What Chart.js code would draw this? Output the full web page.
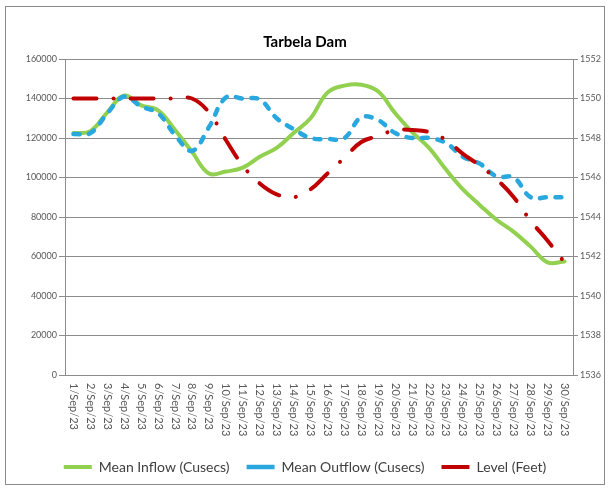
<!DOCTYPE html>
<html>
<head>
<meta charset="utf-8">
<title>Tarbela Dam</title>
<script src="https://cdn.jsdelivr.net/npm/chart.js@4.4.0/dist/chart.umd.min.js"></script>
<style>
  html, body { margin: 0; padding: 0; background: #fff; }
  canvas { display: block; }
</style>
</head>
<body>
<canvas id="chart" width="610" height="489"></canvas>
<script>
// Daily readings, September 2023
const days = [
  '1/Sep/23', '2/Sep/23', '3/Sep/23', '4/Sep/23', '5/Sep/23', '6/Sep/23',
  '7/Sep/23', '8/Sep/23', '9/Sep/23', '10/Sep/23', '11/Sep/23', '12/Sep/23',
  '13/Sep/23', '14/Sep/23', '15/Sep/23', '16/Sep/23', '17/Sep/23', '18/Sep/23',
  '19/Sep/23', '20/Sep/23', '21/Sep/23', '22/Sep/23', '23/Sep/23', '24/Sep/23',
  '25/Sep/23', '26/Sep/23', '27/Sep/23', '28/Sep/23', '29/Sep/23', '30/Sep/23'
];

const meanInflow = [
  122500, 123500, 133000, 141500, 136500, 134000, 124000, 113000, 102000, 103000,
  105000, 110500, 115000, 122500, 130000, 143000, 146500, 147000, 143500, 132500,
  123000, 115000, 104000, 94000, 86000, 78500, 72500, 65000, 57000, 57500
];

const meanOutflow = [
  122000, 122500, 132500, 141000, 136000, 132500, 121500, 113500, 125500, 140500,
  140000, 139500, 130000, 124500, 120000, 119500, 120000, 130500, 129000, 122500,
  120000, 120000, 117500, 110500, 107000, 100500, 100000, 90000, 90000, 90000
];

const levelFeet = [
  1550, 1550, 1550, 1550, 1550, 1550, 1550, 1550, 1549.3, 1547.9,
  1546.6, 1545.7, 1545.15, 1545.0, 1545.4, 1546.2, 1547.0, 1547.8, 1548.1, 1548.4,
  1548.4, 1548.3, 1547.9, 1547.2, 1546.6, 1545.9, 1545.0, 1543.8, 1542.8, 1541.7
];

// Axis tick values
const flowTicks = [0, 20000, 40000, 60000, 80000, 100000, 120000, 140000, 160000];
const levelTicks = [1536, 1538, 1540, 1542, 1544, 1546, 1548, 1550, 1552];

const FONT = 'Lato, "Open Sans", sans-serif';
const GRID = '#8c8c8c';
const TICK_COLOR = '#595959';

// White background and the thin frame around the whole chart
const framePlugin = {
  id: 'frame',
  beforeDraw(chart) {
    const ctx = chart.ctx;
    ctx.save();
    ctx.fillStyle = '#ffffff';
    ctx.fillRect(0, 0, chart.width, chart.height);
    ctx.strokeStyle = '#8a8a8a';
    ctx.lineWidth = 1;
    ctx.strokeRect(5.5, 6.5, 599, 478);
    ctx.restore();
  }
};

// Date labels under the x axis, turned to read top-to-bottom
const dayLabelPlugin = {
  id: 'dayLabels',
  afterDraw(chart) {
    const xs = chart.scales.x;
    const ctx = chart.ctx;
    ctx.save();
    ctx.font = '11px ' + FONT;
    ctx.fillStyle = TICK_COLOR;
    ctx.textAlign = 'left';
    ctx.textBaseline = 'middle';
    days.forEach((d, i) => {
      const px = xs.getPixelForValue(i);
      ctx.save();
      ctx.translate(px, xs.top + 8);
      ctx.rotate(Math.PI / 2);
      ctx.fillText(d, 0, 0);
      ctx.restore();
    });
    ctx.restore();
  }
};

const lineCommon = {
  pointRadius: 0,
  pointHoverRadius: 0,
  pointStyle: 'line',
  tension: 0.4,
  fill: false,
  borderCapStyle: 'round',
  borderJoinStyle: 'round'
};

new Chart(document.getElementById('chart'), {
  type: 'line',
  data: {
    labels: days,
    datasets: [
      Object.assign({}, lineCommon, {
        label: 'Mean Inflow (Cusecs)',
        data: meanInflow,
        yAxisID: 'y',
        borderColor: '#92D050',
        backgroundColor: '#92D050',
        borderWidth: 4,
        order: 3
      }),
      Object.assign({}, lineCommon, {
        label: 'Mean Outflow (Cusecs)',
        data: meanOutflow,
        yAxisID: 'y',
        borderColor: '#29A8E0',
        backgroundColor: '#29A8E0',
        borderWidth: 4.5,
        borderDash: [6, 9.5],
        order: 2
      }),
      Object.assign({}, lineCommon, {
        label: 'Level (Feet)',
        data: levelFeet,
        yAxisID: 'y1',
        borderColor: '#C00000',
        backgroundColor: '#C00000',
        borderWidth: 4,
        borderDash: [23, 17, 0.1, 17],
        order: 1
      })
    ]
  },
  options: {
    responsive: false,
    animation: false,
    devicePixelRatio: 1,
    layout: { padding: { top: 6, bottom: 5, left: 0, right: 0 } },
    plugins: {
      tooltip: { enabled: false },
      title: {
        display: true,
        text: 'Tarbela Dam',
        color: '#000000',
        font: { family: FONT, size: 15, weight: 'bold', lineHeight: 1.2 },
        padding: { top: 27, bottom: 8 }
      },
      legend: {
        position: 'bottom',
        labels: {
          usePointStyle: true,
          pointStyleWidth: 28,
          padding: 17,
          color: '#404040',
          font: { family: FONT, size: 14 },
          sort: (a, b) => a.datasetIndex - b.datasetIndex
        }
      }
    },
    scales: {
      x: {
        type: 'category',
        offset: true,
        grid: { display: false },
        border: { display: true, color: GRID, width: 1 },
        ticks: { display: false },
        afterFit(scale) { scale.height = 68; }
      },
      y: {
        position: 'left',
        min: flowTicks[0],
        max: flowTicks[flowTicks.length - 1],
        ticks: {
          stepSize: flowTicks[1] - flowTicks[0],
          color: TICK_COLOR,
          font: { family: FONT, size: 9 },
          padding: 2,
          callback: v => String(v)
        },
        grid: { color: GRID, lineWidth: 1, tickLength: 6, drawTicks: true },
        border: { display: true, color: GRID, width: 1 },
        afterFit(scale) { scale.width = 65; }
      },
      y1: {
        position: 'right',
        min: levelTicks[0],
        max: levelTicks[levelTicks.length - 1],
        ticks: {
          stepSize: levelTicks[1] - levelTicks[0],
          color: TICK_COLOR,
          font: { family: FONT, size: 9 },
          padding: 2,
          callback: v => String(v)
        },
        grid: { drawOnChartArea: false, color: GRID, tickLength: 5, drawTicks: true },
        border: { display: true, color: GRID, width: 1 },
        afterFit(scale) { scale.width = 37; }
      }
    }
  },
  plugins: [framePlugin, dayLabelPlugin]
});
</script>
</body>
</html>
